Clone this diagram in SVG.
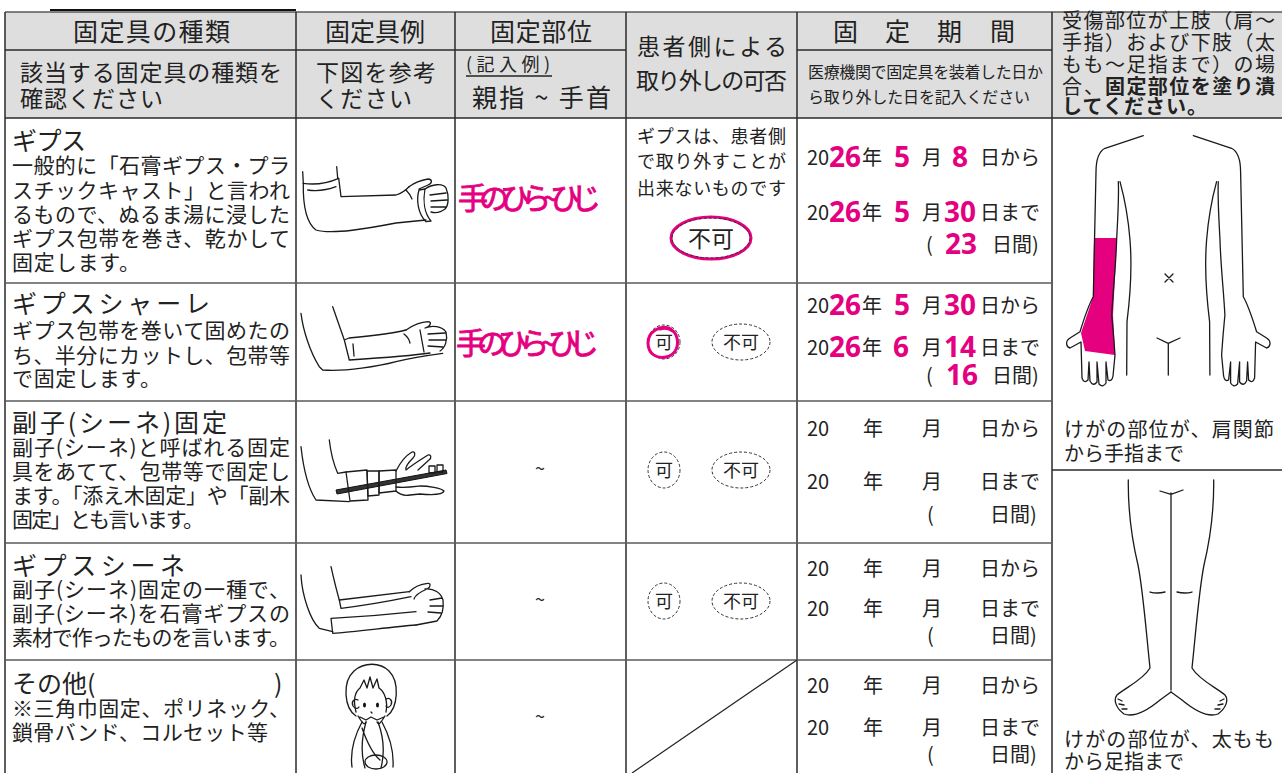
<svg xmlns="http://www.w3.org/2000/svg" width="1282" height="773" viewBox="0 0 1282 773">
<style>
text{font-family:"Noto Sans CJK JP","Noto Sans",sans-serif;fill:#222}
.t25{font-size:25px}
.t24{font-size:23px}
.t21{font-size:21px}
.t20{font-size:20px}
.t18{font-size:18px}
.t16{font-size:16px}
.b{font-weight:bold}
.pk{fill:#e4007f;font-family:"Noto Sans","Noto Sans CJK JP",sans-serif;font-weight:bold;font-size:28px}
.hw{fill:#e4007f;stroke:#e4007f;stroke-width:0.8;font-size:30px}
.v{stroke:#2a2a2a;stroke-width:1.5;fill:none}
.h{stroke:#5a5a5a;stroke-width:1.5;fill:none}
.d{stroke:#333;stroke-width:1;stroke-dasharray:3 2;fill:none}
.ln{stroke:#1a1a1a;stroke-width:1.3;fill:none;stroke-linecap:round;stroke-linejoin:round}
.mid{text-anchor:middle}
</style>

<g id="header-bg">
<rect x="5" y="12" width="1047" height="106" fill="#dedede"/>
<rect x="1052" y="12" width="230" height="106" fill="#dedede"/>
</g>

<g id="grid">
<line x1="50" y1="10" x2="296" y2="10" stroke="#111" stroke-width="2"/>
<line x1="5" y1="12" x2="1282" y2="12" class="h"/>
<line x1="5" y1="12" x2="5" y2="773" class="v"/>
<line x1="296" y1="12" x2="296" y2="773" class="v"/>
<line x1="455" y1="12" x2="455" y2="773" class="v"/>
<line x1="626" y1="12" x2="626" y2="773" class="v"/>
<line x1="797" y1="12" x2="797" y2="773" class="v"/>
<line x1="1052" y1="12" x2="1052" y2="773" class="v"/>
<line x1="5" y1="50" x2="626" y2="50" class="v"/>
<line x1="797" y1="50" x2="1052" y2="50" class="v"/>
<line x1="5" y1="118" x2="1282" y2="118" class="v"/>
<line x1="5" y1="283" x2="1052" y2="283" class="h"/>
<line x1="5" y1="401" x2="1052" y2="401" class="h"/>
<line x1="5" y1="543" x2="1052" y2="543" class="h"/>
<line x1="5" y1="660" x2="1052" y2="660" class="h" stroke-width="2"/>
<line x1="1052" y1="470" x2="1282" y2="470" class="v"/>
<line x1="797" y1="660" x2="632" y2="773" stroke="#222" stroke-width="1.2"/>
</g>

<g id="header-text">
<text x="73" y="41" class="t25" textLength="157">固定具の種類</text>
<text x="325" y="41" class="t25" textLength="100">固定具例</text>
<text x="490" y="41" class="t25" textLength="102">固定部位</text>
<text x="637" y="55" class="t24" textLength="150">患者側による</text>
<text x="636" y="89" class="t24" textLength="151">取り外しの可否</text>
<text x="833 885 937 990" y="41" class="t25">固定期間</text>
<text x="808" y="78" class="t16" textLength="235">医療機関で固定具を装着した日か</text>
<text x="808" y="103" class="t16" textLength="222">ら取り外した日を記入ください</text>
<text x="20" y="81" class="t24" textLength="262">該当する固定具の種類を</text>
<text x="20" y="107" class="t24" textLength="143">確認ください</text>
<text x="316" y="81" class="t24" textLength="120">下図を参考</text>
<text x="316" y="107" class="t24" textLength="96">ください</text>
<text x="466" y="71" class="t18" textLength="84">(記入例)</text>
<line x1="466" y1="76" x2="552" y2="76" stroke="#222" stroke-width="1.3"/>
<text x="472" y="107" class="t25" textLength="139">親指 ~ 手首</text>
<text x="1062" y="28" class="t20" textLength="213">受傷部位が上肢（肩～</text>
<text x="1062" y="50" class="t20" textLength="213">手指）および下肢（太</text>
<text x="1062" y="72" class="t20" textLength="213">もも～足指まで）の場</text>
<text x="1062" y="94" class="t20" textLength="42">合、</text>
<text x="1105" y="94" class="t20 b" textLength="170">固定部位を塗り潰</text>
<text x="1062" y="114" class="t20 b" textLength="145">してください。</text>
</g>

<g id="row-gips">
<text x="12" y="150" class="t25" textLength="74">ギプス</text>
<text x="12" y="173" class="t21" textLength="278">一般的に「石膏ギプス・プラ</text>
<text x="12" y="198" class="t21" textLength="278">スチックキャスト」と言われ</text>
<text x="12" y="222" class="t21" textLength="278">るもので、ぬるま湯に浸した</text>
<text x="12" y="246" class="t21" textLength="278">ギプス包帯を巻き、乾かして</text>
<text x="12" y="270" class="t21" textLength="128">固定します。</text>
<g id="img-gips">
<path class="ln" d="M302.7,171.7 L303.3,183.3 M336.7,166.7 L337.7,178.3"/>
<path class="ln" d="M303.3,183.3 Q321,186 338.7,178.3 M307.7,190 Q322,192 336,186.7"/>
<path class="ln" d="M303.3,183.3 C303,200 305,222 316,230 C332,235 370,228 396,223 L426,220"/>
<path class="ln" d="M338.7,178.3 L341,196.7 L396,195 C402,193 406,190 409,186.7"/>
<path class="ln" d="M409,186.7 C414,183 422,180 428,179 C432,179 433,183 428,185 L419,189"/>
<path class="ln" d="M419,190 C416,200 418,214 426,221.7 L431,221 C424,213 423,200 425,189 Z"/>
<path class="ln" d="M425,189 C432,184 443,183 446,188 C449,195 449,205 445,209 C440,213 435,213 431,212 M430,195 L446,193 M431,201 L447,200 M431,207 L446,207 M406,190 Q410,194 412,199"/>
</g>
<text x="458" y="209" class="hw" textLength="143">手のひら~ひじ</text>
<text x="637" y="143" class="t18" textLength="149">ギプスは、患者側</text>
<text x="637" y="168" class="t18" textLength="149">で取り外すことが</text>
<text x="637" y="195" class="t18" textLength="149">出来ないものです</text>
<ellipse cx="711" cy="238" rx="40" ry="21" fill="none" stroke="#e4007f" stroke-width="3"/>
<ellipse cx="711" cy="238" rx="39" ry="20" class="d"/>
<text x="711" y="247" class="t24 mid">不可</text>
<text x="807" y="165" class="t20">20</text><text x="829" y="167" class="pk">26</text><text x="862" y="165" class="t20">年</text><text x="894" y="167" class="pk">5</text><text x="922" y="165" class="t20">月</text><text x="952" y="167" class="pk">8</text><text x="980" y="165" class="t20">日から</text>
<text x="807" y="220" class="t20">20</text><text x="829" y="222" class="pk">26</text><text x="862" y="220" class="t20">年</text><text x="894" y="222" class="pk">5</text><text x="922" y="220" class="t20">月</text><text x="944" y="222" class="pk">30</text><text x="980" y="220" class="t20">日まで</text>
<text x="926" y="252" class="t20">(</text><text x="945" y="254" class="pk">23</text><text x="992" y="252" class="t20">日間)</text>
</g>

<g id="row-schale">
<text x="12" y="313" class="t25" textLength="198">ギプスシャーレ</text>
<text x="12" y="338" class="t21" textLength="278">ギプス包帯を巻いて固めたの</text>
<text x="12" y="363" class="t21" textLength="278">ち、半分にカットし、包帯等</text>
<text x="12" y="386" class="t21" textLength="149">で固定します。</text>
<g id="img-schale">
<path class="ln" d="M301,313.3 C303,330 310,352 319.3,366.7 L322.7,370 C345,372 380,366 396,361.7 C410,358 430,355 442.7,353.3"/>
<path class="ln" d="M332.7,306.7 L344.3,340 L349.3,360 M344.3,340 L349,338 C370,336 395,333 406,330 M349.3,360 C380,358 410,356 430,353 M353,344 L354,356 M420,330 L424,352"/>
<path class="ln" d="M406,330 C412,326 420,322 428,321.7 C432,322 431,326 425,328 C432,325 442,326 446,332 C448,340 445,348 440,351 M428,334 L445,333 M429,340 L446,340 M428,346 L443,347 M404,334 Q409,338 410,343"/>
</g>
<text x="456" y="354" class="hw" textLength="143">手のひら~ひじ</text>
<ellipse cx="664" cy="342" rx="16" ry="17" class="d"/>
<path d="M671,329 C660,324 648,332 648,343 C648,354 657,359 666,357 C676,355 680,345 676,335 C673,329 666,327 660,329" fill="none" stroke="#e4007f" stroke-width="3" stroke-linecap="round"/>
<text x="664" y="349" class="t18 mid">可</text>
<ellipse cx="741" cy="342" rx="29" ry="18" class="d"/>
<text x="741" y="349" class="t18 mid">不可</text>
<text x="807" y="313" class="t20">20</text><text x="829" y="315" class="pk">26</text><text x="862" y="313" class="t20">年</text><text x="894" y="315" class="pk">5</text><text x="922" y="313" class="t20">月</text><text x="944" y="315" class="pk">30</text><text x="980" y="313" class="t20">日から</text>
<text x="807" y="355" class="t20">20</text><text x="829" y="357" class="pk">26</text><text x="862" y="355" class="t20">年</text><text x="893" y="357" class="pk">6</text><text x="922" y="355" class="t20">月</text><text x="944" y="357" class="pk">14</text><text x="980" y="355" class="t20">日まで</text>
<text x="926" y="383" class="t20">(</text><text x="946" y="385" class="pk">16</text><text x="992" y="383" class="t20">日間)</text>
</g>

<g id="row-shiene">
<text x="12" y="432" class="t25" textLength="215">副子(シーネ)固定</text>
<text x="12" y="455" class="t21" textLength="278">副子(シーネ)と呼ばれる固定</text>
<text x="12" y="479" class="t21" textLength="278">具をあてて、包帯等で固定し</text>
<text x="12" y="503" class="t21" textLength="278">ます。「添え木固定」や「副木</text>
<text x="12" y="527" class="t21" textLength="192">固定」とも言います。</text>
<g id="img-shiene">
<path class="ln" d="M301,446.7 C303,465 308,488 316,500 L349.3,501.7 M329.3,440 C331,455 334,465 337.7,473.3 L346,472"/>
<path d="M336,490 L446,470 L447,473.5 L337,494 Z" fill="#333" stroke="#111" stroke-width="1"/>
<path class="ln" d="M346,472 L367,470 L368,500 L350,501 Z" fill="#fff"/>
<path class="ln" d="M367,471 L379,471 L379,495 L368,496 Z" fill="#fff"/>
<path class="ln" d="M379,471 L396,470 L396,491 L379,493 Z" fill="#fff"/>
<path class="ln" d="M396,471 C400,463 405,456 412,452 C415,451 416,455 413,458 C408,463 405,468 406,470 C412,465 420,460 428,455 C431,454 432,458 429,460 L418,470"/>
<path class="ln" d="M396,487 C405,488 412,487 420,486 C428,486 441,488 444,491 C443,495 432,495 420,494 L410,495 C404,496 399,494 396,491"/>
<rect x="429" y="466" width="6" height="7" class="ln" fill="#fff"/>
<rect x="437" y="465" width="6" height="7" class="ln" fill="#fff"/>
</g>
<text x="540" y="475" class="t18 mid">~</text>
<ellipse cx="664" cy="470" rx="16" ry="18" class="d"/>
<text x="664" y="477" class="t18 mid">可</text>
<ellipse cx="741" cy="470" rx="29" ry="18" class="d"/>
<text x="741" y="477" class="t18 mid">不可</text>
<text x="807" y="436" class="t20">20</text><text x="863" y="436" class="t20">年</text><text x="922" y="436" class="t20">月</text><text x="980" y="436" class="t20">日から</text>
<text x="807" y="489" class="t20">20</text><text x="863" y="489" class="t20">年</text><text x="922" y="489" class="t20">月</text><text x="980" y="489" class="t20">日まで</text>
<text x="927" y="522" class="t20">(</text><text x="990" y="522" class="t20">日間)</text>
</g>

<g id="row-gipsshiene">
<text x="12" y="575" class="t25" textLength="173">ギプスシーネ</text>
<text x="12" y="597" class="t21" textLength="278">副子(シーネ)固定の一種で、</text>
<text x="12" y="621" class="t21" textLength="278">副子(シーネ)を石膏ギプスの</text>
<text x="12" y="645" class="t21" textLength="278">素材で作ったものを言います。</text>
<g id="img-gipsshiene">
<path class="ln" d="M301,575 C302,595 310,620 319.3,628.3 L332.7,631.7 M331,566.7 C334,580 337,592 339.3,600"/>
<path class="ln" d="M339.3,600 L341,608.3 M339.3,600 C365,597 390,594 409.3,591.7 M341,608.3 C370,605 395,600 411,596.7"/>
<path class="ln" d="M331,618.3 L332.7,633.3 M331,618.3 C360,617 395,614 416,611.7 M332.7,633.3 C355,632 390,627 416,625"/>
<path class="ln" d="M409.3,591.7 C414,587 421,584 427.7,583.3 C431,583 431,587 427,589 C420,592 415,596 414,599 M425,589 C434,588 441,593 443,600 C444,608 442,616 437,621 L416,625 M430,600 L442,598 M430,606 L443,606 M428,612 L441,613"/>
</g>
<text x="540" y="606" class="t18 mid">~</text>
<ellipse cx="664" cy="601" rx="16" ry="18" class="d"/>
<text x="664" y="608" class="t18 mid">可</text>
<ellipse cx="741" cy="601" rx="29" ry="18" class="d"/>
<text x="741" y="608" class="t18 mid">不可</text>
<text x="807" y="576" class="t20">20</text><text x="863" y="576" class="t20">年</text><text x="922" y="576" class="t20">月</text><text x="980" y="576" class="t20">日から</text>
<text x="807" y="616" class="t20">20</text><text x="863" y="616" class="t20">年</text><text x="922" y="616" class="t20">月</text><text x="980" y="616" class="t20">日まで</text>
<text x="927" y="643" class="t20">(</text><text x="990" y="643" class="t20">日間)</text>
</g>

<g id="row-other">
<text x="12" y="693" class="t25">その他(</text>
<text x="274" y="693" class="t25">)</text>
<text x="12" y="716" class="t21" textLength="278">※三角巾固定、ポリネック、</text>
<text x="12" y="740" class="t21" textLength="256">鎖骨バンド、コルセット等</text>
<g id="img-other">
<path class="ln" d="M356,716 C344,708 342,682 354,671 C364,662 380,662 389,671 C400,682 398,708 387,716"/>
<path class="ln" d="M356,712 C353,700 355,692 360,688 L364,680 L367,688 L370,677 L373,688 L377,679 L379,688 C385,692 388,702 386,712"/>
<path class="ln" d="M358,700 C354,698 351,702 353,706 C355,709 358,709 359,707 M386,699 C390,697 393,701 391,705 C389,708 387,708 386,706"/>
<ellipse cx="364.5" cy="705" rx="1.5" ry="2.5" fill="#111"/>
<ellipse cx="377.5" cy="705" rx="1.5" ry="2.5" fill="#111"/>
<path class="ln" d="M371,712 L372,713"/>
<path class="ln" d="M360,717 L366,720 L371,717 L377,720 L384,717 M358,716 C362,722 364,726 366,722 M385,716 C381,722 379,726 377,722"/>
<path class="ln" d="M362,722 C355,735 350,752 352,767 M382,722 C389,735 394,752 393,767 M366,722 C361,740 361,755 365,768 M378,722 C384,738 385,752 381,768 M362,728 C368,745 374,755 380,760"/>
<ellipse cx="376" cy="762" rx="11" ry="7" class="ln"/>
</g>
<text x="540" y="723" class="t18 mid">~</text>
<text x="807" y="693" class="t20">20</text><text x="863" y="693" class="t20">年</text><text x="922" y="693" class="t20">月</text><text x="980" y="693" class="t20">日から</text>
<text x="807" y="735" class="t20">20</text><text x="863" y="735" class="t20">年</text><text x="922" y="735" class="t20">月</text><text x="980" y="735" class="t20">日まで</text>
<text x="927" y="762" class="t20">(</text><text x="990" y="762" class="t20">日間)</text>
</g>

<g id="upper-body">
<path d="M1094,238 L1117,238 L1113,315 L1115,355 L1085,351 L1081,333 L1093,297 Z" fill="#e4007f"/>
<g id="upper-half">
<path class="ln" d="M1143.3,135.7 L1105,148.3 C1098,152 1096,160 1096,172 L1093.3,296.7 C1088,306 1083,322 1080,331.7 L1070,338 C1065,341 1066,347 1070,348 L1081,342 L1082,378 Q1084,384 1088,380 L1089,362 L1090,381 Q1093,387 1097,382 L1097,362 L1099,384 Q1103,388 1106,383 L1106,362 L1108,380 Q1112,382 1113,376 L1115,355 C1114,340 1113,328 1111.7,315 C1113,290 1116,265 1116.7,238 C1118,215 1119,195 1118.3,181.7"/>
<path class="ln" d="M1120,181.7 C1125,200 1128,215 1130,240 C1132,265 1131,290 1127,321.7 L1126.7,375"/>
</g>
<use href="#upper-half" transform="translate(2336.6,0) scale(-1,1)"/>
<path class="ln" d="M1165,274 L1173,282 M1173,274 L1165,282"/>
<path class="ln" d="M1157,338 L1168.3,343.3 L1180,338 M1168.3,343.3 L1168.3,375"/>
<text x="1064" y="437" class="t20" textLength="210">けがの部位が、肩関節</text>
<text x="1064" y="461" class="t20">から手指まで</text>
</g>

<g id="lower-body">
<g id="leg-half">
<path class="ln" d="M1128.3,480 C1128,510 1132,540 1138,565 C1143,590 1146,630 1150,668 C1143,680 1125,688 1117,695 C1113,700 1116,708 1124,714 C1135,718 1148,710 1160,700 L1171,692"/>
<path class="ln" d="M1118,699 L1122,701 M1119,704 L1124,705 M1122,709 L1127,709 M1150,592 Q1157,594 1165,592"/>
</g>
<use href="#leg-half" transform="translate(2342,0) scale(-1,1)"/>
<path class="ln" d="M1171,493 L1171,690 M1160,491 L1171,494.3 L1183,490"/>
<text x="1064" y="747" class="t20" textLength="210">けがの部位が、太もも</text>
<text x="1064" y="769" class="t20">から足指まで</text>
</g>
</svg>
